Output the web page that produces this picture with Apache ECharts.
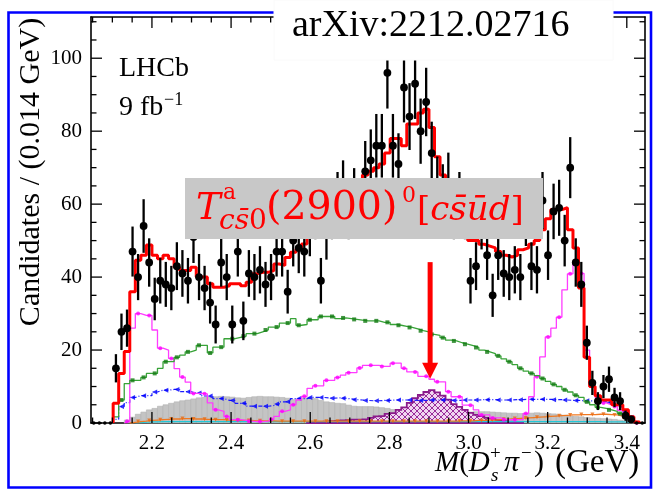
<!DOCTYPE html>
<html><head><meta charset="utf-8">
<script src="https://cdn.jsdelivr.net/npm/echarts@6/dist/echarts.min.js"></script>
<style>html,body{margin:0;padding:0;background:#fff}#c{width:654px;height:490px}</style>
</head><body><div id="c"></div>
<script>
// ---- binning / tick labels ----
const xMin = 2.046, binWidth = 0.014, nBins = 100, xMax = 3.446, yMax = 111.3;
const xTickLabels = [2.2, 2.4, 2.6, 2.8, 3.0, 3.2, 3.4];
const yTickLabels = [0, 20, 40, 60, 80, 100];

// ---- data (candidates per bin) ----
const dataCounts = [0,0,0,0,15,25,26,47,40,54,
 44,34,39,38,37,43,41,39,51,40,
 37,33,27,44,40,27,47,28,41,40,
 42,38,40,47,47,36,50,48,47,53,
 58,39,52,58,61,64,58,62,59,69,
 72,76,76,96,76,71,92,84,93,80,
 88,74,65,63,66,58,61,58,39,43,
 55,46,35,46,41,40,42,40,56,43,
 42,61,46,58,59,50,70,44,38,22,
 11,6,10,12,7,6,2,1,0,0];

// ---- total fit (red) ----
const totalFit = [0,0,0,0,5.4,13.6,19.6,36,44.6,46,
 48.8,46,45,46,45,42.7,41.8,41.8,42.7,40,
 40,38.2,37.2,37.2,37.6,38.2,38.2,37.6,38.6,40.9,
 41.3,41.3,41.8,43.6,43.2,45.4,46.8,47.7,49.1,51,
 52,53,54,55,57,58,59,61,64,68,
 69,70,71,74,78,78,76,82,82,85,
 86,81,73,68,64,60,55,52,50,50,
 49,48.5,48,47,46,45.5,46,47.5,48,49,
 50,53,56,58.5,58.5,59,53,48,37,18,
 10,7.5,6.3,6.3,5,5,3.6,1.7,0.3,0];

// ---- components ----
const greenComp = [0,0,0,0,1.7,6.3,10.8,11.7,11.7,12.5,
 13.6,13.6,15,16.8,16.8,18,18.6,19.5,20,21.3,
 21.3,19.2,20.8,20.8,23.1,23.1,23.5,23.8,24.5,24.5,
 25,25.5,26.3,26.3,27.4,27.4,28.6,26.8,27,28.3,
 28.3,29.2,29.2,29.2,28.6,28.8,28.6,28.4,28.2,28,
 28,28,27.6,27.6,27,26.8,26.5,26.2,25.8,25.3,
 25,24.3,24,23.4,22.7,22.5,22,21.6,21.2,20.7,
 20,19.5,19,18.4,17.6,16.8,16,15,14.2,13.6,
 13,12.2,11.4,10.6,10,9.1,8.5,7.6,7,5.8,
 5,4.3,4,3.6,3.2,2.6,1.6,0.8,0.2,0];

const magentaComp = [0,0,0,0,0,0,0.5,26,30,29.5,
 29.5,25.5,20.5,20,17.7,14.9,12.6,11.2,8.1,8.1,
 8,5.5,3.6,3.2,1.8,0.9,0.9,0.7,0.5,0.4,
 0.4,0.5,1,1.8,3.2,3.6,5,6.3,7.3,9.5,
 10.2,10.2,11.7,11.7,12.5,13.1,13.8,13.8,15.1,15.8,
 15.8,15.8,15.5,15.5,16.4,16.4,15,14,14,12.8,
 12.8,12,11.3,11.3,8.6,7.2,7.2,4.9,4.9,3.6,
 2.2,2.2,1.4,1.4,0.9,0.9,0.9,0.9,2.6,7.2,
 12.7,18.1,23.6,26,29,36.5,40.9,44,41,20,
 10,7,5.5,5,4.5,3.5,2,0.8,0.1,0];

const blueComp = [0,0,0,0,1,4.5,5.6,7,7.5,7.5,
 7.5,8.5,9,9,9.2,9.2,8.6,8.6,8.2,8.2,
 7.4,7.4,6.7,6.7,6.2,6.2,5.4,5.4,4.6,4.6,
 4.6,4.6,4.8,5.2,5.8,5.8,6.7,6.7,6.7,7,
 7,7,6.9,6.8,6.9,6.8,6.6,6.4,6.3,6.2,
 6.1,6.1,6.2,6.2,6.3,6.3,6.3,6.3,6.2,6.2,
 6.2,6.3,6.3,6.3,6.3,6.2,6.2,6.3,6.3,6.3,
 6.4,6.4,6.4,6.3,6.3,6.3,6.4,6.4,6.5,6.5,
 6.5,6.5,6.5,6.4,6.4,6.3,6.2,6.2,6.1,6.1,
 6.0,5.9,5.8,5.6,5.3,4.7,3.2,1.6,0.4,0];

const grayComp = [0,0,0,0,0,0,0.8,1.6,2.4,3.0,
 3.6,4.0,4.6,5.0,5.4,5.8,6.1,6.3,6.6,6.9,
 7.1,7.2,7.2,7.3,7.2,7.1,6.9,6.8,7.0,7.2,
 7.3,7.2,7.2,7.1,7.0,6.8,6.4,6.5,6.9,6.9,
 6.7,6.2,5.8,5.6,5.4,5.3,4.9,4.6,4.5,4.5,
 4.5,4.4,4.2,4.0,3.7,3.5,3.3,3.1,2.9,2.7,
 2.6,2.5,2.4,2.4,2.5,2.6,2.8,2.9,3.0,3.1,
 3.1,3.1,3.0,2.9,2.8,2.7,2.7,2.6,2.6,2.7,
 2.8,2.7,2.6,2.5,2.3,2.1,1.9,1.8,1.7,1.5,
 1.4,1.3,1.2,1.1,1.0,0.8,0.6,0.4,0.1,0];

const signalComp = [0,0,0,0,0,0,0,0,0,0,
 0,0,0,0,0,0,0,0,0,0,
 0,0,0,0,0,0,0,0,0,0,
 0,0,0,0,0,0,0,0,0,0.1,
 0.2,0.3,0.4,0.5,0.6,0.7,0.8,0.9,0.9,1.0,
 1.4,1.8,1.9,2.5,2.7,3.6,4.3,5.5,6.8,7.7,
 8.5,9.0,8.4,7.5,6.4,5.2,4.4,3.6,2.8,2.2,
 1.9,1.4,1.2,0.8,0.5,0.4,0.2,0.1,0,0,
 0,0,0,0,0,0,0,0,0,0,
 0,0,0,0,0,0,0,0,0,0];

const orangeComp = [0,0,0,0,0,0,0,0.2,0.4,0.5,
 0.7,0.8,0.9,1.0,1.1,1.1,1.2,1.2,1.1,1.1,
 1.0,1.0,0.9,0.9,0.8,0.8,0.7,0.7,0.7,0.6,
 0.6,0.6,0.6,0.5,0.5,0.5,0.5,0.5,0.5,0.5,
 0.5,0.5,0.5,0.5,0.5,0.5,0.5,0.5,0.5,0.5,
 0.5,0.5,0.5,0.5,0.5,0.5,0.5,0.5,0.5,0.5,
 0.5,0.5,0.5,0.5,0.5,0.5,0.6,0.6,0.6,0.7,
 0.7,0.8,0.8,0.9,1.0,1.1,1.2,1.3,1.4,1.5,
 1.6,1.7,1.8,1.9,2.0,2.1,2.2,2.2,2.3,2.3,
 2.3,2.4,2.4,2.3,2.2,1.9,1.3,0.6,0.1,0];

const cyanComp = [0,0,0,0,0,0,0,0,0.1,0.2,
 0.3,0.3,0.4,0.4,0.4,0.4,0.4,0.4,0.4,0.4,
 0.4,0.4,0.4,0.4,0.4,0.4,0.4,0.4,0.4,0.4,
 0.4,0.4,0.4,0.4,0.4,0.4,0.4,0.4,0.4,0.4,
 0.4,0.4,0.4,0.4,0.4,0.4,0.4,0.4,0.4,0.4,
 0.4,0.4,0.4,0.4,0.4,0.4,0.4,0.4,0.4,0.4,
 0.4,0.4,0.4,0.4,0.4,0.4,0.4,0.4,0.4,0.4,
 0.4,0.4,0.4,0.4,0.4,0.4,0.4,0.4,0.4,0.4,
 0.4,0.4,0.4,0.4,0.4,0.4,0.4,0.4,0.4,0.4,
 0.4,0.4,0.3,0.3,0.3,0.3,0.2,0.1,0,0];

// ---- helpers building library inputs ----
const edge = i => xMin + i * binWidth;
const center = i => xMin + (i + 0.5) * binWidth;
function stepPoints(vals) {
  let f = vals.findIndex(v => v > 0);
  let l = vals.length - 1; while (l > 0 && !(vals[l] > 0)) l--;
  const pts = [[edge(f), 0]];
  for (let i = f; i <= l; i++) { pts.push([edge(i), vals[i]], [edge(i + 1), vals[i]]); }
  pts.push([edge(l + 1), 0]);
  return pts;
}
function markerPoints(vals, parity) {
  const pts = [];
  vals.forEach((v, i) => { if (v > 0.05 && i % 2 === parity) pts.push([center(i), v]); });
  return pts;
}
const isMult = (v, s) => Math.abs(v / s - Math.round(v / s)) < 1e-6;
const xMinorTicks = []; for (let k = 41; k <= 68; k++) { const v = k * 0.05; if (!isMult(v, 0.2)) xMinorTicks.push(v); }
const yMinorTicks = []; for (let k = 1; k <= 22; k++) { const v = k * 5; if (!isMult(v, 20)) yMinorTicks.push(v); }

// hatch pattern
const pc = document.createElement('canvas'); pc.width = 6; pc.height = 6;
(function () { const g = pc.getContext('2d'); g.fillStyle = '#f1d6f1'; g.fillRect(0, 0, 6, 6);
  g.strokeStyle = '#9a2d9a'; g.lineWidth = 1; g.beginPath();
  g.moveTo(0, 0); g.lineTo(6, 6); g.moveTo(6, 0); g.lineTo(0, 6); g.stroke(); })();

const chart = echarts.init(document.getElementById('c'), null, { renderer: 'canvas', width: 654, height: 490 });
const serif = '"Liberation Serif", "Times New Roman", serif';
const mathF = '"DejaVu Serif", serif';

function lineSeries(name, vals, color, width, z, dash) {
  return { name, type: 'line', data: stepPoints(vals), showSymbol: false, symbol: 'none', z, silent: true,
    lineStyle: { color, width, type: dash || 'solid' }, animation: false };
}
function markerSeries(vals, color, symbol, size, rot, z, parity) {
  return { type: 'scatter', data: markerPoints(vals, parity), symbol, symbolSize: size, symbolRotate: rot || 0,
    itemStyle: { color }, z, silent: true, animation: false };
}

const option = {
  animation: false,
  grid: { left: 91, right: 9, top: 17, bottom: 67, outerBoundsMode: 'none' },
  xAxis: [
    { type: 'value', min: xMin, max: xMax, splitNumber: 7, position: 'bottom',
      axisLine: { show: true, onZero: false, lineStyle: { color: '#000', width: 1.6 } },
      axisTick: { show: false }, splitLine: { show: false },
      axisLabel: { color: '#000', fontFamily: serif, fontSize: 21, margin: 10,
        formatter: v => (isMult(v, 0.2) && v > 2.1 && v < 3.45) ? v.toFixed(1) : '' } },
    { type: 'value', min: xMin, max: xMax, position: 'top',
      axisLine: { show: true, onZero: false, lineStyle: { color: '#000', width: 1.6 } },
      axisTick: { show: false }, axisLabel: { show: false }, splitLine: { show: false } }
  ],
  yAxis: [
    { type: 'value', min: 0, max: yMax, interval: 20, position: 'left',
      axisLine: { show: true, onZero: false, lineStyle: { color: '#000', width: 1.6 } },
      axisTick: { show: false }, splitLine: { show: false },
      axisLabel: { color: '#000', fontFamily: serif, fontSize: 21, margin: 9,
        formatter: v => (yTickLabels.some(t => Math.abs(t - v) < 1e-6)) ? String(Math.round(v)) : '' } },
    { type: 'value', min: 0, max: yMax, position: 'right',
      axisLine: { show: true, onZero: false, lineStyle: { color: '#000', width: 1.6 } },
      axisTick: { show: false }, axisLabel: { show: false }, splitLine: { show: false } }
  ],
  series: [
    { type: 'custom', z: 1, silent: true, animation: false,
      data: grayComp.map((v, i) => [edge(i), v, edge(i + 1)]),
      encode: { x: 0, y: 1 },
      renderItem: (p, api) => {
        const v = api.value(1); if (!(v > 0)) return null;
        const a = api.coord([api.value(0), v]), b = api.coord([api.value(2), 0]);
        return { type: 'rect', shape: { x: a[0], y: a[1], width: b[0] - a[0], height: b[1] - a[1] },
          style: { fill: '#c4c4c4', stroke: '#b2b2b2', lineWidth: 0.6 } };
      } },
    { type: 'custom', z: 2, silent: true, animation: false, data: [[xMin, 0]], encode: { x: 0, y: 1 },
      renderItem: (p, api) => {
        const pts = stepPoints(signalComp).map(q => api.coord(q));
        return { type: 'polygon', shape: { points: pts },
          style: { fill: { image: pc, repeat: 'repeat' }, stroke: '#8b1a8b', lineWidth: 1.8 } };
      } },
    lineSeries('cyan', cyanComp, '#22c8d8', 1.2, 3),
    lineSeries('orange', orangeComp, '#f07820', 1.3, 3),
    markerSeries(orangeComp, '#e86a10', 'triangle', 4, 180, 3, 0),
    lineSeries('blue', blueComp, '#1a1aff', 1.2, 4, [4, 2, 1, 2]),
    markerSeries(blueComp, '#0000ff', 'triangle', 5, 90, 4, 1),
    lineSeries('magenta', magentaComp, '#ff3cff', 1.3, 5),
    markerSeries(magentaComp, '#ff00ff', 'circle', 4, 0, 5, 0),
    lineSeries('green', greenComp, '#38a338', 1.3, 6),
    markerSeries(greenComp, '#137a13', 'rect', 4, 0, 6, 1),
    lineSeries('total', totalFit, '#ff0000', 3, 7),
    { type: 'custom', z: 8, silent: true, animation: false,
      data: dataCounts.map((v, i) => [center(i), v, Math.sqrt(v)]),
      encode: { x: 0, y: 1 },
      renderItem: (p, api) => {
        const x = api.value(0), v = api.value(1), e = api.value(2);
        const c = api.coord([x, v]);
        if (v <= 0) return { type: 'circle', shape: { cx: c[0], cy: c[1], r: 1.8 }, style: { fill: '#000' } };
        const t = api.coord([x, v + e]), b = api.coord([x, v - e]);
        return { type: 'group', children: [
          { type: 'line', shape: { x1: c[0], y1: t[1], x2: c[0], y2: b[1] }, style: { stroke: '#000', lineWidth: 2.3 } },
          { type: 'circle', shape: { cx: c[0], cy: c[1], r: 3.9 }, style: { fill: '#000' } } ] };
      } },
    { type: 'custom', z: 9, silent: true, animation: false, data: [[xMin, 0]], encode: { x: 0, y: 1 },
      renderItem: (p, api) => {
        const ch = [];
        const x0 = api.coord([xMin, 0])[0], x1 = api.coord([xMax, 0])[0];
        const yb = api.coord([xMin, 0])[1], yt = api.coord([xMin, yMax])[1];
        const L = (a, b, c, d) => ch.push({ type: 'line', shape: { x1: a, y1: b, x2: c, y2: d }, style: { stroke: '#000', lineWidth: 1.3 } });
        xTickLabels.forEach(v => { const x = api.coord([v, 0])[0]; L(x, yb, x, yb - 11); L(x, yt, x, yt + 11); });
        xMinorTicks.forEach(v => { const x = api.coord([v, 0])[0]; L(x, yb, x, yb - 5.5); L(x, yt, x, yt + 5.5); });
        yTickLabels.forEach(v => { const y = api.coord([xMin, v])[1]; L(x0, y, x0 + 11, y); L(x1, y, x1 - 11, y); });
        yMinorTicks.forEach(v => { const y = api.coord([xMin, v])[1]; L(x0, y, x0 + 5.5, y); L(x1, y, x1 - 5.5, y); });
        return { type: 'group', children: ch };
      } }
  ]
};
chart.setOption(option);

// ---- annotations ----
const arrowX = chart.convertToPixel({ gridIndex: 0 }, [2.903, 0])[0];
const arrowTop = chart.convertToPixel({ gridIndex: 0 }, [2.903, 44.1])[1];
const arrowTip = chart.convertToPixel({ gridIndex: 0 }, [2.903, 12.1])[1];
const red = '#ff0000';
const T = (x, y, text, size, fam, extra, rot) => ({ type: 'text', x, y, z: 120, silent: true, rotation: rot || 0,
  style: Object.assign({ text, fontSize: size, fontFamily: fam, fill: '#000', align: 'left', verticalAlign: 'middle' }, extra || {}) });

chart.setOption({ graphic: [
  { type: 'rect', z: 100, silent: true, shape: { x: 8.5, y: 12.5, width: 642.5, height: 475 },
    style: { fill: 'none', stroke: '#0000ff', lineWidth: 2.6 } },
  { type: 'rect', z: 110, silent: true, shape: { x: 274, y: 0, width: 339, height: 60 }, style: { fill: '#fff', stroke: '#fafafa', lineWidth: 1 } },
  T(292, 26, 'arXiv:2212.02716', 38, serif),
  T(119, 69, 'LHCb', 28, serif),
  T(119, 108, '9 fb', 28, serif),
  T(164, 100, '\u22121', 18, serif),
  { type: 'rect', z: 110, silent: true, shape: { x: 185, y: 178, width: 358, height: 61 }, style: { fill: '#c8c8c8' } },
  T(196, 209, 'T', 37, mathF, { fill: red, fontStyle: 'italic' }),
  T(223, 193, 'a', 22, mathF, { fill: red }),
  T(219, 222, '{i|cs\u0304}{n|0}', 28, mathF, { fill: red, rich: { i: { fontStyle: 'italic', fontSize: 28, fontFamily: mathF, fill: red }, n: { fontSize: 28, fontFamily: mathF, fill: red } } }),
  T(266, 209, '(2900)', 39.5, mathF, { fill: red }),
  T(402, 196, '0', 22, mathF, { fill: red }),
  T(417, 211, '{n|[}{i|cs\u0304u\u0304d}{n|]}', 34, mathF, { fill: red, rich: { i: { fontStyle: 'italic', fontSize: 34, fontFamily: mathF, fill: red }, n: { fontSize: 34, fontFamily: mathF, fill: red } } }),
  { type: 'line', z: 115, silent: true, shape: { x1: arrowX, y1: arrowTop, x2: arrowX, y2: arrowTip - 14 }, style: { stroke: red, lineWidth: 5 } },
  { type: 'polygon', z: 115, silent: true, shape: { points: [[arrowX - 8, arrowTip - 16], [arrowX + 8, arrowTip - 16], [arrowX, arrowTip]] }, style: { fill: red } },
  T(31.5, 172, 'Candidates / (0.014 GeV)', 30, serif, { align: 'center' }, Math.PI / 2),
  T(435, 463, '{i|M}{n|(}{i|D}', 29, serif, { rich: { i: { fontStyle: 'italic', fontSize: 29, fontFamily: serif }, n: { fontSize: 29, fontFamily: serif } } }),
  T(491, 476, 's', 19, serif, { fontStyle: 'italic' }),
  T(490, 454, '+', 19, serif),
  T(504, 463, '\u03c0', 30, serif, { fontStyle: 'italic' }),
  T(521, 454, '\u2212', 19, serif),
  T(534, 463, ')', 30, serif),
  T(555, 463, '(GeV)', 33, serif)
] });
</script>
</body></html>
